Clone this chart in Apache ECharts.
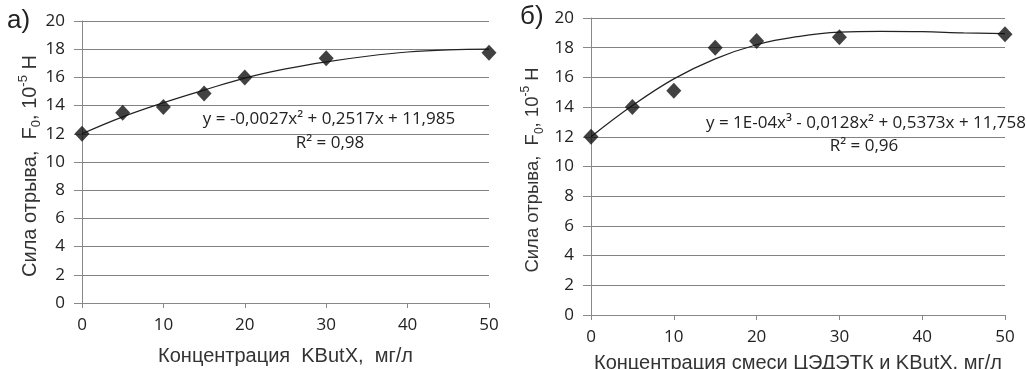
<!DOCTYPE html>
<html>
<head>
<meta charset="utf-8">
<script src="https://cdn.jsdelivr.net/npm/echarts@6/dist/echarts.min.js"></script>
<style>
  html, body { margin: 0; padding: 0; background: #fff; }
  #chart { width: 1026px; height: 369px; }
</style>
</head>
<body>
<div id="chart"></div>
<script>
// concentrations, mg/l
const concA = [0, 5, 10, 15, 20, 30, 50]
const forceA = [12.0, 13.5, 13.9, 14.85, 16.0, 17.35, 17.75]
const concB = [0, 5, 10, 15, 20, 30, 50]
const forceB = [12.0, 14.0, 15.1, 18.0, 18.45, 18.7, 18.9]

// trend lines
const trendX = [0, 5, 10, 15, 20, 25, 30, 35, 40, 45, 50]
const trendA = [12.0, 13.2, 14.2, 15.1, 15.95, 16.6, 17.1, 17.5, 17.8, 17.95, 18.0]
const trendB = [12.0, 14.1, 15.9, 17.25, 18.2, 18.75, 19.05, 19.1, 19.08, 19.0, 18.95]

const eqA = ['y = -0,0027x² + 0,2517x + 11,985', 'R² = 0,98']
const eqB = ['y = 1E-04x³ - 0,0128x² + 0,5373x + 11,758', 'R² = 0,96']
const xTitleA = 'Концентрация  KButX,  мг/л'
const xTitleB = 'Концентрация смеси ЦЭДЭТК и KButX, мг/л'
const yTitle = '{t|Сила отрыва,  F}{sub|0}{t|, 10}{sup|-5}{t| Н}'

const chart = echarts.init(document.getElementById('chart'))

const numFont = '"Open Sans", "Noto Sans", sans-serif'
const titleFont = '"Liberation Sans", Arial, sans-serif'

function xAxisOf(idx, title, gap) {
    return {
        type: 'value', gridIndex: idx, min: 0, max: 50, interval: 10,
        name: title, nameLocation: 'middle', nameGap: gap,
        nameTextStyle: { fontFamily: titleFont, fontSize: 20, color: '#333' },
        axisLine: { show: true, lineStyle: { color: '#888', width: 1 } },
        axisTick: { show: true, length: 5, lineStyle: { color: '#888' } },
        axisLabel: { fontFamily: numFont, fontSize: 17, color: '#222', margin: 14 },
        splitLine: { show: false }
    }
}

function yAxisOf(idx) {
    return {
        type: 'value', gridIndex: idx, min: 0, max: 20, interval: 2,
        axisLine: { show: true, lineStyle: { color: '#888', width: 1 } },
        axisTick: { show: true, length: 8, lineStyle: { color: '#888' } },
        axisLabel: { fontFamily: numFont, fontSize: 17, color: '#222', margin: 17 },
        splitLine: { show: true, lineStyle: { color: '#828282', width: 1 } }
    }
}

function yTitleAt(x, y, size) {
    const small = Math.round(size * 0.65)
    return {
        type: 'text', x: x, y: y, rotation: Math.PI / 2,
        style: {
            text: yTitle, align: 'center', verticalAlign: 'middle',
            rich: {
                t: { fontFamily: titleFont, fontSize: size, fill: '#333', lineHeight: 26 },
                sub: { fontFamily: titleFont, fontSize: small, fill: '#333', lineHeight: 26, verticalAlign: 'bottom' },
                sup: { fontFamily: titleFont, fontSize: small, fill: '#333', lineHeight: 26, verticalAlign: 'top' }
            }
        }
    }
}

function eqText(x, y, text) {
    return {
        type: 'text', x: x, y: y, z: 10,
        style: { text: text, fontFamily: numFont, fontSize: 17, fill: '#222', align: 'center', verticalAlign: 'middle' }
    }
}

function pairs(xs, ys) {
    return xs.map((x, i) => [x, ys[i]])
}

const option = {
    animation: false,
    grid: [
        { left: 82, right: 537, top: 21, bottom: 66, outerBoundsMode: 'none' },
        { left: 591, right: 21, top: 18, bottom: 54, outerBoundsMode: 'none' }
    ],
    xAxis: [xAxisOf(0, xTitleA, 43), xAxisOf(1, xTitleB, 38)],
    yAxis: [yAxisOf(0), yAxisOf(1)],
    series: [
        {
            type: 'line', xAxisIndex: 0, yAxisIndex: 0, data: pairs(trendX, trendA),
            smooth: 0.4, showSymbol: false, lineStyle: { color: '#222', width: 1.2 }, z: 2
        },
        {
            type: 'scatter', xAxisIndex: 0, yAxisIndex: 0, data: pairs(concA, forceA),
            symbol: 'diamond', symbolSize: [15, 16], itemStyle: { color: '#111' }, z: 3
        },
        {
            type: 'line', xAxisIndex: 1, yAxisIndex: 1, data: pairs(trendX, trendB),
            smooth: 0.4, showSymbol: false, lineStyle: { color: '#222', width: 1.2 }, z: 2
        },
        {
            type: 'scatter', xAxisIndex: 1, yAxisIndex: 1, data: pairs(concB, forceB),
            symbol: 'diamond', symbolSize: [15, 16], itemStyle: { color: '#111' }, z: 3
        }
    ],
    graphic: [
        { type: 'text', left: 7, top: 8, style: { text: 'а)', fontFamily: titleFont, fontSize: 26, fill: '#222' } },
        { type: 'text', left: 520, top: 4, style: { text: 'б)', fontFamily: titleFont, fontSize: 26, fill: '#222' } },
        yTitleAt(30, 166, 20),
        yTitleAt(533, 170, 18.5),
        eqText(329, 119, eqA[0]),
        eqText(330, 143, eqA[1]),
        eqText(866, 123, eqB[0]),
        eqText(864, 146, eqB[1])
    ]
}

chart.setOption(option)
window.addEventListener('resize', () => chart.resize())
</script>
</body>
</html>
